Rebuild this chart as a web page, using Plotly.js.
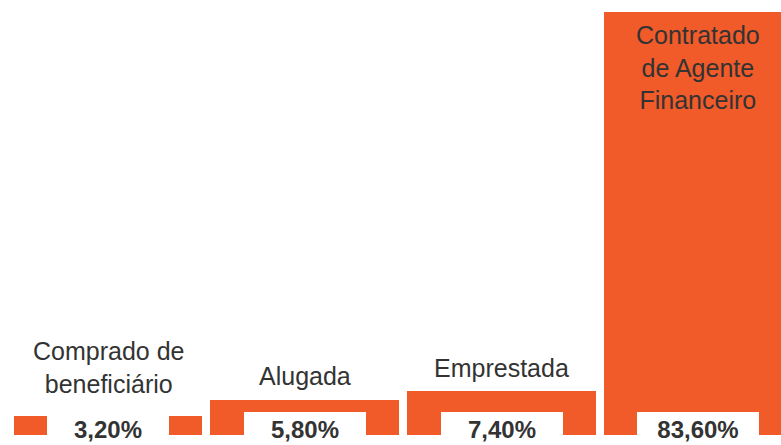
<!DOCTYPE html>
<html>
<head>
<meta charset="utf-8">
<script src="https://cdn.plot.ly/plotly-3.0.1.min.js"></script>
<style>
  html, body { margin: 0; padding: 0; background: #ffffff; }
  #chart { width: 781px; height: 445px; }
</style>
</head>
<body>
<div id="chart"></div>
<script>
// ---- data ----
const categories = ['Comprado de<br>beneficiário', 'Alugada', 'Emprestada', 'Contratado<br>de Agente<br>Financeiro'];
const values = [3.2, 5.8, 7.4, 83.6];
const valueLabels = ['3,20%', '5,80%', '7,40%', '83,60%'];

// ---- style ----
const ORANGE = '#F15A29';
const TEXT = '#333333';
const FONT = 'Liberation Sans, Arial, sans-serif';
const Y_MAX = 70.5;                  // axis is cut: the biggest bar runs off the top
const labelShift = [18, 10, 9, -9];  // px offsets of category labels

const trace = {
  type: 'bar',
  x: categories,
  y: values,
  width: 0.96,
  marker: { color: ORANGE, line: { width: 0 } },
  hoverinfo: 'skip'
};

const annotations = [];
categories.forEach((c, i) => {
  const inside = values[i] > Y_MAX;
  annotations.push({
    x: c, xref: 'x',
    y: inside ? Y_MAX : values[i], yref: 'y',
    yanchor: inside ? 'top' : 'bottom',
    yshift: labelShift[i],
    text: c,
    showarrow: false,
    align: 'center',
    borderpad: 0, borderwidth: 0,
    font: { family: FONT, size: 25, color: TEXT }
  });
  annotations.push({
    x: c, xref: 'x',
    y: 0, yref: 'y',
    yanchor: 'middle',
    yshift: 6,
    text: '<b>' + valueLabels[i] + '</b>',
    showarrow: false,
    width: 122, height: 34,
    valign: 'middle',
    bgcolor: '#ffffff',
    borderpad: 0, borderwidth: 0,
    font: { family: FONT, size: 24, color: TEXT }
  });
});

const layout = {
  width: 781, height: 445,
  margin: { l: 0, r: 0, t: 12, b: 10, pad: 0 },
  paper_bgcolor: '#ffffff',
  plot_bgcolor: '#ffffff',
  showlegend: false,
  bargap: 0,
  xaxis: { visible: false, range: [-0.549, 3.42], fixedrange: true },
  yaxis: { visible: false, range: [0, Y_MAX], fixedrange: true },
  annotations: annotations
};

Plotly.newPlot('chart', [trace], layout, { displayModeBar: false, staticPlot: true });
</script>
</body>
</html>
